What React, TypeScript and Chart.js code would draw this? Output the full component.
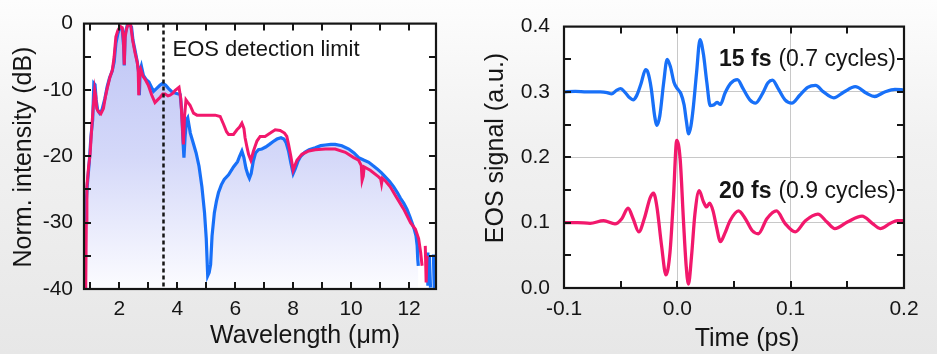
import React, { useEffect, useRef } from "react";
import { Chart, registerables } from "chart.js";

Chart.register(...registerables);

const FONT = "'Liberation Sans', Arial, Helvetica, sans-serif";
const BLUE = "#1870f8";
const RED = "#f2186c";
const INK = "#151515";

// ---------- Left panel: spectra ----------
const WL_BLUE = [
  0.8, 0.84, 0.9, 0.96, 1.02, 1.08, 1.12, 1.16, 1.2, 1.25, 1.32, 1.4, 1.5, 1.58, 1.66, 1.75, 1.82, 1.88, 1.95,
  2.02, 2.1, 2.15, 2.17, 2.2, 2.27, 2.35, 2.42, 2.47, 2.54, 2.62, 2.67, 2.69, 2.72, 2.76, 2.83, 2.92, 3.02, 3.1,
  3.18, 3.28, 3.4, 3.5, 3.6, 3.7, 3.82, 3.95, 4.1, 4.15, 4.2, 4.23, 4.27, 4.32, 4.36, 4.45, 4.55, 4.65, 4.75,
  4.85, 4.94, 5.0, 5.05, 5.1, 5.15, 5.2, 5.28, 5.35, 5.42, 5.52, 5.62, 5.77, 5.94, 6.08, 6.15, 6.23, 6.3, 6.37,
  6.44, 6.49, 6.55, 6.62, 6.7, 6.8, 6.92, 7.05, 7.18, 7.3, 7.44, 7.58, 7.68, 7.76, 7.84, 7.92, 8.0, 8.07, 8.16,
  8.26, 8.4, 8.55, 8.76, 8.95, 9.11, 9.3, 9.45, 9.68, 9.92, 10.1, 10.26, 10.45, 10.61, 10.75, 10.9, 11.05, 11.18,
  11.33, 11.47, 11.6, 11.7, 11.82, 11.93, 12.02, 12.1, 12.18, 12.24, 12.28, 12.3, 12.32, 12.36, 12.62, 12.65,
  12.7, 12.74, 12.78, 12.84, 12.87, 12.9, 12.93,
];
const DB_BLUE = [
  -31.5, -28, -24, -21, -17, -14.5, -9.0, -9.2, -11.5, -13.0, -13.5, -13.0, -11.3, -9.5, -8.2, -7.2, -5.8, -3.0, -1.5,
  -0.5, -0.8, -3.5, -6.3, -1.5, -0.3, -0.2, -0.5, -2.5, -4.0, -5.8, -7.5, -10.8, -7.0, -6.4, -7.8, -8.4, -8.8, -9.5,
  -10.2, -9.8, -9.3, -9.0, -9.3, -9.8, -10.3, -10.5, -10.7, -13, -18, -20.2, -17, -14.5, -14.2, -16.5, -18, -19.5, -21.5,
  -24.6, -28.5, -32.4, -38, -37.5, -36.3, -32, -28.5, -26.8, -25.5, -24.3, -23.5, -22.8, -21.6, -20.8, -20.0, -19.2, -20.2, -21.8,
  -22.8, -23.3, -22.6, -20.8, -19.5, -19.0, -18.9, -18.6, -18.2, -17.8, -17.4, -17.2, -17.4, -18.0, -19.2, -21.0, -22.6, -21.9, -20.8,
  -20.0, -19.4, -19.0, -18.7, -18.4, -18.3, -18.2, -18.2, -18.4, -18.9, -19.5, -20.2, -20.6, -20.9, -21.4, -21.9, -22.5, -23.1,
  -23.8, -24.6, -25.5, -26.3, -27.1, -28.0, -29.0, -30.0, -31.0, -32.0, -33.5, -35.5, -36.5, null, -34.5, -39.5,
  -35.0, -39.8, null, -34.8, -40.0, -36, -40,
];
const WL_RED = [
  0.84, 0.86, 0.88, 0.94, 0.99, 1.05, 1.1, 1.15, 1.18, 1.22, 1.28, 1.36, 1.45, 1.52, 1.58, 1.68, 1.76, 1.82, 1.88,
  1.95, 2.03, 2.1, 2.14, 2.17, 2.2, 2.25, 2.31, 2.39, 2.46, 2.54, 2.62, 2.65, 2.67, 2.7, 2.74, 2.81, 2.89, 3.0,
  3.12, 3.23, 3.32, 3.41, 3.5, 3.58, 3.68, 3.75, 3.85, 3.92, 4.06, 4.12, 4.17, 4.21, 4.25, 4.3, 4.35, 4.44, 4.56,
  4.68, 4.8, 4.96, 5.15, 5.31, 5.48, 5.6, 5.7, 5.77, 5.94, 6.06, 6.15, 6.23, 6.3, 6.34, 6.4, 6.46, 6.54, 6.63,
  6.75, 6.86, 7.03, 7.21, 7.38, 7.55, 7.7, 7.78, 7.84, 7.92, 8.0, 8.06, 8.13, 8.3, 8.54, 8.76, 9.11, 9.45, 9.8,
  10.09, 10.26, 10.35, 10.38, 10.42, 10.45, 10.66, 10.95, 11.02, 11.05, 11.08, 11.2, 11.35, 11.58, 11.82, 12.05,
  12.22, 12.33, 12.4, 12.45, 12.48, 12.56, 12.59, 12.62, 12.64,
];
const DB_RED = [
  -40, -30, -24.6, -21.5, -19.7, -15.5, -12.5, -10.0, -10.8, -12.8, -13.3, -13.6, -12.8, -11.0, -9.8, -8.0, -7.0, -5.0, -2.0,
  -1.0, -0.4, -0.6, -2.5, -6.2, -2.0, -0.8, 0, -0.2, -2.5, -4.4, -5.9, -7.0, -10.8, -7.5, -6.9, -7.9, -8.4, -9.3,
  -10.8, -11.9, -11.5, -11.1, -10.6, -10.6, -10.9, -10.8, -10.5, -10.1, -9.6, -11.3, -15, -18.2, -14, -11.5, -11.8, -12.3, -13.5,
  -13.8, -13.8, -13.8, -13.8, -13.8, -14.0, -15.2, -16.3, -16.7, -16.7, -16.0, -15.6, -15.0, -15.8, -17.2, -18.5, -19.7, -20.6, -19.2,
  -17.7, -17.0, -17.0, -16.5, -16.0, -16.1, -16.5, -17.0, -18.2, -20.0, -22.1, -21.4, -20.6, -19.7, -19.2, -19.0, -18.9, -18.9, -19.4,
  -20.2, -20.6, -21.4, -23.6, -23.0, -21.6, -22.1, -23.1, -23.4, -24.1, -23.3, -23.8, -24.6, -26.3, -28.0, -30.0,
  -31.0, -32.4, -34.5, -36.5, null, -33.5, -39.0, -35, null,
];
const WL_TICKS = [2, 4, 6, 8, 10, 12];
const WL_MINOR = [1, 2, 3, 4, 5, 6, 7, 8, 9, 10, 11, 12];
const DB_TICKS = [0, -10, -20, -30, -40];
const DB_MINOR = [-35, -30, -25, -20, -15, -10, -5];
const EOS_LIMIT_UM = 3.5;
const EOS_LIMIT_TEXT = "EOS detection limit";
const LEFT_X_TITLE = "Wavelength (μm)";
const LEFT_Y_TITLE = "Norm. intensity (dB)";

// ---------- Right panel: EOS traces ----------
const T_BLUE = [
  -0.1, -0.09, -0.08, -0.068, -0.062, -0.058, -0.054, -0.05, -0.046, -0.042, -0.039, -0.036, -0.032, -0.028, -0.026,
  -0.023, -0.02, -0.018, -0.0155, -0.012, -0.009, -0.006, -0.003, 0.0, 0.003, 0.006, 0.008, 0.01, 0.012, 0.014, 0.017,
  0.02, 0.023, 0.026, 0.029, 0.032, 0.035, 0.038, 0.042, 0.047, 0.053, 0.058, 0.064, 0.069, 0.075, 0.08, 0.084, 0.089,
  0.095, 0.101, 0.108, 0.115, 0.122, 0.129, 0.138, 0.147, 0.157, 0.167, 0.174, 0.183, 0.192, 0.2,
];
const S_BLUE = [
  0.3, 0.301, 0.3, 0.3, 0.299, 0.297, 0.302, 0.305, 0.299, 0.291, 0.288, 0.294, 0.313, 0.334, 0.33,
  0.305, 0.263, 0.249, 0.263, 0.315, 0.35, 0.338, 0.315, 0.305, 0.298, 0.28, 0.255, 0.236, 0.248, 0.275, 0.33,
  0.38, 0.358, 0.315, 0.279, 0.28, 0.284, 0.281, 0.298, 0.313, 0.319, 0.305, 0.288, 0.283, 0.297, 0.314, 0.318, 0.305,
  0.288, 0.283, 0.295, 0.307, 0.31, 0.3, 0.291, 0.3, 0.308, 0.298, 0.293, 0.3, 0.304, 0.303,
];
const T_RED = [
  -0.1, -0.088, -0.077, -0.065, -0.055, -0.049, -0.0435, -0.039, -0.034, -0.029, -0.024, -0.021, -0.018, -0.014, -0.01,
  -0.0065, -0.0035, -0.0005, 0.0025, 0.0055, 0.0078, 0.0098, 0.0125, 0.0155, 0.0193, 0.0228, 0.0258, 0.0285, 0.0315,
  0.0345, 0.038, 0.042, 0.0465, 0.054, 0.06, 0.066, 0.0715, 0.079, 0.0875, 0.095, 0.104, 0.113, 0.124, 0.132, 0.139,
  0.15, 0.163, 0.172, 0.179, 0.188, 0.194, 0.2,
];
const S_RED = [
  0.1, 0.1, 0.099, 0.103, 0.098, 0.106, 0.122, 0.106, 0.086, 0.107, 0.138, 0.145, 0.124, 0.066, 0.02,
  0.054, 0.135, 0.226, 0.197, 0.1, 0.034, 0.006, 0.048, 0.113, 0.149, 0.133, 0.124, 0.13, 0.118,
  0.094, 0.071, 0.084, 0.103, 0.118, 0.106, 0.088, 0.083, 0.106, 0.118, 0.099, 0.086, 0.103, 0.113, 0.101, 0.091,
  0.101, 0.11, 0.099, 0.091, 0.099, 0.103, 0.103,
];
const T_TICKS = [-0.1, 0, 0.1, 0.2];
const T_MINOR = [-0.05, 0, 0.05, 0.1, 0.15];
const S_TICKS = [0, 0.1, 0.2, 0.3, 0.4];
const S_MINOR = [0.05, 0.1, 0.15, 0.2, 0.25, 0.3, 0.35];
const BLUE_NOTE = ["15 fs", "(0.7 cycles)"];
const RED_NOTE = ["20 fs", "(0.9 cycles)"];
const RIGHT_X_TITLE = "Time (ps)";
const RIGHT_Y_TITLE = "EOS signal (a.u.)";

const zip = (xs: number[], ys: (number | null)[]) => xs.map((x, i) => ({ x, y: ys[i] }));

type PanelOpts = {
  xMinor: number[];
  yMinor: number[];
  xTitle: string;
  xTitlePos: [number, number];
  yTitle: string;
  yTitlePos: [number, number];
  extra?: (chart: any) => void;
};

const panelPlugin = (o: PanelOpts) => ({
  id: "panel",
  beforeDraw(chart: any) {
    const { ctx, chartArea: a } = chart;
    ctx.save();
    ctx.fillStyle = "#ffffff";
    ctx.fillRect(a.left, a.top, a.right - a.left, a.bottom - a.top);
    ctx.restore();
  },
  afterDraw(chart: any) {
    const { ctx, chartArea: a, scales } = chart;
    const xs = scales.x;
    const ys = scales.y;
    ctx.save();
    if (o.extra) o.extra(chart);
    // inward ticks
    ctx.strokeStyle = INK;
    ctx.lineWidth = 2;
    const TL = 7;
    ctx.beginPath();
    o.xMinor.forEach((v) => {
      const p = Math.round(xs.getPixelForValue(v));
      ctx.moveTo(p, a.bottom);
      ctx.lineTo(p, a.bottom - TL);
      ctx.moveTo(p, a.top);
      ctx.lineTo(p, a.top + TL);
    });
    o.yMinor.forEach((v) => {
      const p = Math.round(ys.getPixelForValue(v));
      ctx.moveTo(a.left, p);
      ctx.lineTo(a.left + TL, p);
      ctx.moveTo(a.right, p);
      ctx.lineTo(a.right - TL, p);
    });
    ctx.stroke();
    // frame
    ctx.lineWidth = 2.2;
    ctx.strokeRect(a.left, a.top, a.right - a.left, a.bottom - a.top);
    // axis titles
    ctx.fillStyle = INK;
    ctx.font = `25px ${FONT}`;
    ctx.textAlign = "center";
    ctx.textBaseline = "alphabetic";
    ctx.fillText(o.xTitle, o.xTitlePos[0], o.xTitlePos[1]);
    ctx.translate(o.yTitlePos[0], o.yTitlePos[1]);
    ctx.rotate(-Math.PI / 2);
    ctx.fillText(o.yTitle, 0, 0);
    ctx.restore();
  },
});

const tickFont = { family: FONT, size: 21 };

function LeftPanel() {
  const ref = useRef<HTMLCanvasElement>(null);
  useEffect(() => {
    if (!ref.current) return;
    const chart = new Chart(ref.current, {
      type: "line",
      data: {
        datasets: [
          {
            label: "red",
            data: zip(WL_RED, DB_RED),
            borderColor: RED,
            borderWidth: 3,
            pointRadius: 0,
            tension: 0,
            fill: false,
            spanGaps: false,
          },
          {
            label: "blue",
            data: zip(WL_BLUE, DB_BLUE),
            borderColor: BLUE,
            borderWidth: 3.2,
            pointRadius: 0,
            tension: 0,
            spanGaps: false,
            fill: "start",
            backgroundColor: (c: any) => {
              const area = c.chart.chartArea;
              if (!area) return "rgba(190,196,245,0.8)";
              const g = c.chart.ctx.createLinearGradient(0, area.top, 0, area.bottom);
              g.addColorStop(0, "rgb(190,197,245)");
              g.addColorStop(0.5, "rgb(212,216,249)");
              g.addColorStop(1, "rgb(252,252,255)");
              return g;
            },
          },
        ],
      } as any,
      options: {
        responsive: false,
        animation: false,
        devicePixelRatio: 1,
        layout: { padding: { left: 0, right: 29, top: 18, bottom: 0 } },
        plugins: { legend: { display: false }, tooltip: { enabled: false } },
        scales: {
          x: {
            type: "linear",
            min: 0.78,
            max: 12.93,
            grid: { display: false, drawTicks: false },
            border: { display: false },
            afterBuildTicks: (s: any) => {
              s.ticks = WL_TICKS.map((v) => ({ value: v }));
            },
            afterFit: (s: any) => {
              s.height = 65;
            },
            ticks: { font: tickFont, color: INK, padding: 8, maxRotation: 0, callback: (v: any) => String(v) },
          },
          y: {
            type: "linear",
            min: -40,
            max: 0,
            grid: { display: false, drawTicks: false },
            border: { display: false },
            afterBuildTicks: (s: any) => {
              s.ticks = DB_TICKS.map((v) => ({ value: v }));
            },
            afterFit: (s: any) => {
              s.width = 84;
            },
            ticks: { font: tickFont, color: INK, padding: 11, callback: (v: any) => String(v) },
          },
        },
      } as any,
      plugins: [
        panelPlugin({
          xMinor: WL_MINOR,
          yMinor: DB_MINOR,
          xTitle: LEFT_X_TITLE,
          xTitlePos: [305, 343],
          yTitle: LEFT_Y_TITLE,
          yTitlePos: [31, 157],
          extra: (ch: any) => {
            const { ctx, chartArea: a, scales } = ch;
            const px = Math.round(scales.x.getPixelForValue(EOS_LIMIT_UM)) + 0.5;
            ctx.save();
            ctx.strokeStyle = INK;
            ctx.lineWidth = 2.5;
            ctx.setLineDash([4, 3]);
            ctx.beginPath();
            ctx.moveTo(px, a.top);
            ctx.lineTo(px, a.bottom);
            ctx.stroke();
            ctx.setLineDash([]);
            ctx.fillStyle = INK;
            ctx.font = `22px ${FONT}`;
            ctx.textAlign = "left";
            ctx.textBaseline = "alphabetic";
            ctx.fillText(EOS_LIMIT_TEXT, px + 9, a.top + 32);
            ctx.restore();
          },
        }),
      ],
    });
    return () => chart.destroy();
  }, []);
  return (
    <canvas
      ref={ref}
      width={465}
      height={354}
      style={{ position: "absolute", left: 0, top: 0, width: 465, height: 354 }}
    />
  );
}

function RightPanel() {
  const ref = useRef<HTMLCanvasElement>(null);
  useEffect(() => {
    if (!ref.current) return;
    const drawNote = (ch: any, note: string[], baselineVal: number) => {
      const { ctx, chartArea: a, scales } = ch;
      const y = scales.y.getPixelForValue(baselineVal);
      const right = a.right - 8;
      ctx.save();
      ctx.fillStyle = INK;
      ctx.textBaseline = "alphabetic";
      ctx.textAlign = "right";
      ctx.font = `23px ${FONT}`;
      ctx.fillText(note[1], right, y);
      const w = ctx.measureText(note[1]).width;
      ctx.font = `bold 23px ${FONT}`;
      ctx.fillText(note[0], right - w - 7, y);
      ctx.restore();
    };
    const chart = new Chart(ref.current, {
      type: "line",
      data: {
        datasets: [
          {
            label: "15 fs",
            data: zip(T_BLUE, S_BLUE),
            borderColor: BLUE,
            borderWidth: 3.3,
            pointRadius: 0,
            cubicInterpolationMode: "monotone",
            fill: false,
          },
          {
            label: "20 fs",
            data: zip(T_RED, S_RED),
            borderColor: RED,
            borderWidth: 3.3,
            pointRadius: 0,
            cubicInterpolationMode: "monotone",
            fill: false,
          },
        ],
      } as any,
      options: {
        responsive: false,
        animation: false,
        devicePixelRatio: 1,
        layout: { padding: { left: 0, right: 33, top: 18, bottom: 0 } },
        plugins: { legend: { display: false }, tooltip: { enabled: false } },
        scales: {
          x: {
            type: "linear",
            min: -0.1,
            max: 0.2,
            grid: { display: true, drawTicks: false, color: "#c8c8c8", lineWidth: 1 },
            border: { display: false },
            afterBuildTicks: (s: any) => {
              s.ticks = T_TICKS.map((v) => ({ value: v }));
            },
            afterFit: (s: any) => {
              s.height = 66;
            },
            ticks: { font: tickFont, color: INK, padding: 9, maxRotation: 0, callback: (v: any) => Number(v).toFixed(1) },
          },
          y: {
            type: "linear",
            min: 0,
            max: 0.4,
            grid: { display: true, drawTicks: false, color: "#c8c8c8", lineWidth: 1 },
            border: { display: false },
            afterBuildTicks: (s: any) => {
              s.ticks = S_TICKS.map((v) => ({ value: v }));
            },
            afterFit: (s: any) => {
              s.width = 99;
            },
            ticks: { font: tickFont, color: INK, padding: 14, callback: (v: any) => Number(v).toFixed(1) },
          },
        },
      } as any,
      plugins: [
        panelPlugin({
          xMinor: T_MINOR,
          yMinor: S_MINOR,
          xTitle: RIGHT_X_TITLE,
          xTitlePos: [747 - 465, 346],
          yTitle: RIGHT_Y_TITLE,
          yTitlePos: [503 - 465, 148],
          extra: (ch: any) => {
            drawNote(ch, BLUE_NOTE, 0.339);
            drawNote(ch, RED_NOTE, 0.138);
          },
        }),
      ],
    });
    return () => chart.destroy();
  }, []);
  return (
    <canvas
      ref={ref}
      width={472}
      height={354}
      style={{ position: "absolute", left: 465, top: 0, width: 472, height: 354 }}
    />
  );
}

export default function App() {
  return (
    <div
      style={{
        position: "absolute",
        left: 0,
        top: 0,
        width: 937,
        height: 354,
        overflow: "hidden",
        background: "linear-gradient(to bottom, #fdfdfd 0%, #f1f1f1 40%, #e7e7e7 100%)",
      }}
    >
      <LeftPanel />
      <RightPanel />
    </div>
  );
}
